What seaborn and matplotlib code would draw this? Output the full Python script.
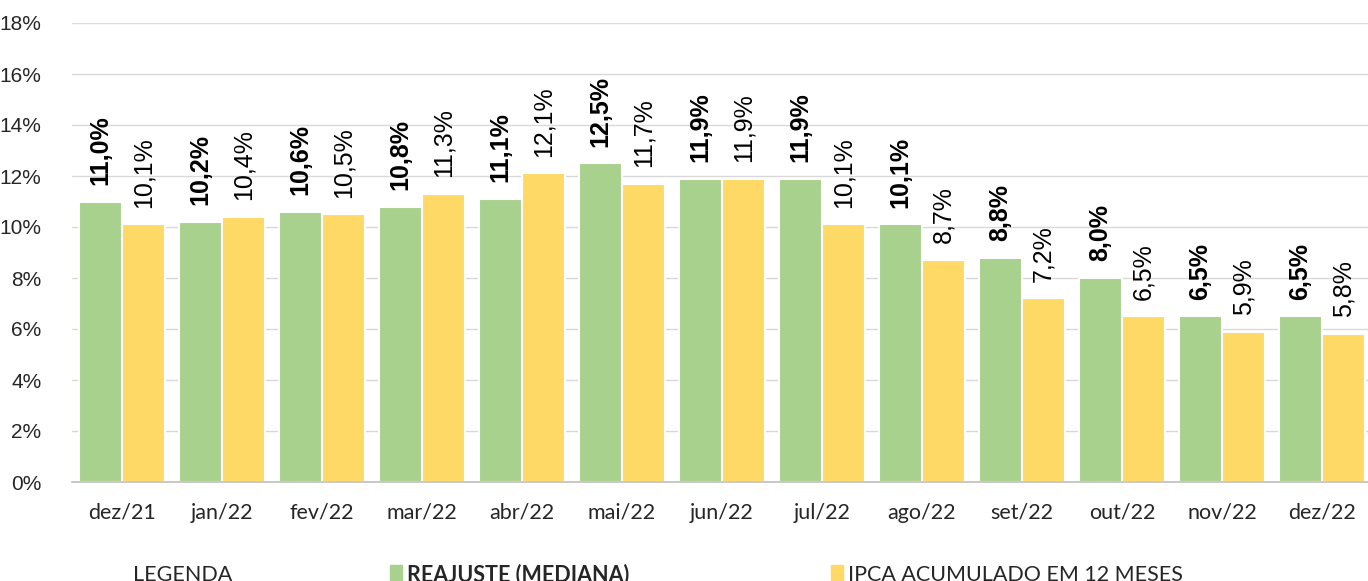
import matplotlib
matplotlib.use("Agg")
import matplotlib.pyplot as plt
import seaborn as sns
import pandas as pd
import numpy as np

# data
meses = ["dez/21", "jan/22", "fev/22", "mar/22", "abr/22", "mai/22", "jun/22",
         "jul/22", "ago/22", "set/22", "out/22", "nov/22", "dez/22"]
reajuste = [11.0, 10.2, 10.6, 10.8, 11.1, 12.5, 11.9, 11.9, 10.1, 8.8, 8.0, 6.5, 6.5]
ipca = [10.1, 10.4, 10.5, 11.3, 12.1, 11.7, 11.9, 10.1, 8.7, 7.2, 6.5, 5.9, 5.8]
serie_reaj = "REAJUSTE (MEDIANA)"
serie_ipca = "IPCA ACUMULADO EM 12 MESES"
yticks = list(range(0, 19, 2))

verde = "#A9D18E"
amarelo = "#FFD966"
arial = ["Liberation Sans", "DejaVu Sans"]

df = pd.DataFrame({
    "mes": meses * 2,
    "valor": reajuste + ipca,
    "serie": [serie_reaj] * len(meses) + [serie_ipca] * len(meses),
})

sns.set_style("white")
plt.rcParams["font.family"] = ["Lato", "DejaVu Sans"]

fig = plt.figure(figsize=(13.68, 5.81), dpi=100)
ax = fig.add_axes([72 / 1368, 99 / 581, 1300 / 1368, 459 / 581])

sns.barplot(data=df, x="mes", y="valor", hue="serie", order=meses,
            hue_order=[serie_reaj, serie_ipca],
            palette=[verde, amarelo], width=0.86, edgecolor="white",
            linewidth=1.5, saturation=1, legend=False, ax=ax)

# value labels
for cont, bold in zip(ax.containers, [True, False]):
    for bar in cont:
        h = bar.get_height()
        ax.annotate(f"{h:.1f}%".replace(".", ","),
                    (bar.get_x() + bar.get_width() / 2, h),
                    xytext=(0, 12), textcoords="offset points",
                    rotation=90, ha="center", va="bottom",
                    fontsize=18, family=arial,
                    fontweight="bold" if bold else "normal", color="black")

ax.set_ylim(0, 18)
ax.set_xlim(-0.5, len(meses) - 0.5)
ax.set_yticks(yticks)
ax.set_yticklabels([f"{v}%" for v in yticks], fontsize=15, family=arial)
ax.yaxis.grid(True, color="#d9d9d9", linewidth=1)
ax.set_axisbelow(True)
ax.set_xlabel("")
ax.set_ylabel("")
ax.tick_params(axis="y", length=0, pad=22)
ax.tick_params(axis="x", which="major", length=0, labelsize=15.5, pad=15)
ax.set_xticks(np.arange(-0.5, len(meses)), minor=True)
ax.tick_params(axis="x", which="minor", length=10, color="#bfbfbf", width=1.2)
for s in ["top", "right", "left"]:
    ax.spines[s].set_visible(False)
ax.spines["bottom"].set_color("#bfbfbf")
ax.spines["bottom"].set_linewidth(1.2)

# legend row at the bottom (partly cut off as in the original)
ly = 0 / 581
fig.text(133 / 1368, ly, "LEGENDA", fontsize=15.5, va="baseline", ha="left")
fig.patches.append(plt.Rectangle((390 / 1368, 0), 12 / 1368, 16 / 581,
                                 transform=fig.transFigure, color=verde))
fig.text(407 / 1368, ly, serie_reaj, fontsize=15.5, fontweight="bold",
         va="baseline", ha="left")
fig.patches.append(plt.Rectangle((831 / 1368, 0), 12 / 1368, 16 / 581,
                                 transform=fig.transFigure, color=amarelo))
fig.text(848 / 1368, ly, serie_ipca, fontsize=15.5, va="baseline", ha="left")

fig.savefig("out.png", dpi=100)
